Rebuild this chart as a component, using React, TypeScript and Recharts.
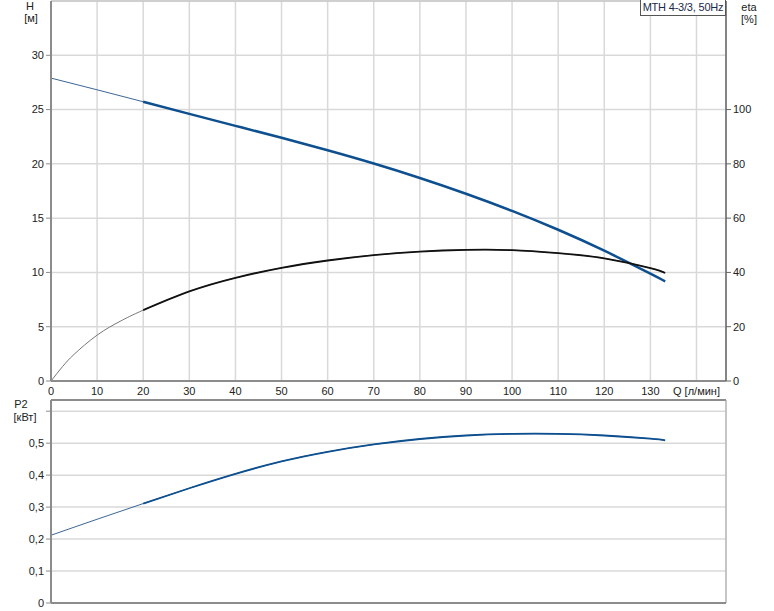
import { LineChart, Line, XAxis, YAxis, CartesianGrid, ReferenceLine } from 'recharts';

// Q [л/мин] points
const flowH = [0, 10, 20, 30, 40, 50, 60, 70, 80, 90, 100, 110, 120, 130, 133.2];
const headH = [27.9, 26.82, 25.72, 24.6, 23.5, 22.4, 21.25, 20.03, 18.7, 17.25, 15.67, 13.93, 12.0, 9.88, 9.17];

const flowEta = [0, 2.5, 5, 10, 15, 20, 30, 40, 50, 60, 70, 80, 90, 100, 110, 120, 130, 133.2];
const etaVals = [0, 5.3, 9.8, 16.9, 22.0, 26.1, 33.0, 38.0, 41.7, 44.4, 46.4, 47.7, 48.3, 48.2, 47.1, 45.2, 41.6, 39.8];

const flowP2 = [0, 10, 20, 30, 40, 50, 60, 70, 80, 90, 100, 110, 120, 130, 133.2];
const p2Vals = [0.212, 0.262, 0.311, 0.359, 0.404, 0.443, 0.473, 0.496, 0.513, 0.524, 0.529, 0.529, 0.524, 0.514, 0.509];

const qTicks = [0, 10, 20, 30, 40, 50, 60, 70, 80, 90, 100, 110, 120, 130, 140];
const hTicks = [0, 5, 10, 15, 20, 25, 30];
const etaTicks = [0, 20, 40, 60, 80, 100];
const p2Ticks = [0, 0.1, 0.2, 0.3, 0.4, 0.5, 0.6];

const SPLIT = 20; // thick line drawn from this flow on
const Q_MAX = 146.4;

const font = '"Liberation Sans", Arial, sans-serif';
const blue = '#0d4f8f';
const gridColor = '#d9d9d9';
const axisColor = '#8c8c8c';

type Row = { q: number; [k: string]: number | undefined };

// full thin curve + thick overlay from SPLIT onwards
function addSeries(map: Map<number, Row>, qs: number[], vals: number[], key: string) {
  qs.forEach((q, i) => {
    const row = map.get(q) ?? { q };
    row[key + 'Thin'] = vals[i];
    if (q >= SPLIT) row[key + 'Thick'] = vals[i];
    map.set(q, row);
  });
}

function buildRows(series: [number[], number[], string][]) {
  const map = new Map<number, Row>();
  series.forEach(([qs, vals, key]) => addSeries(map, qs, vals, key));
  return Array.from(map.values()).sort((a, b) => a.q - b.q);
}

const topRows = buildRows([
  [flowH, headH, 'h'],
  [flowEta, etaVals, 'eta'],
]);
const p2Rows = buildRows([[flowP2, p2Vals, 'p2']]);

const tickStyle = { fill: '#222', fontSize: 11, fontFamily: font };

const label = (text: string, x: number, y: number) => (
  <div
    style={{
      position: 'absolute',
      left: x - 30,
      top: y,
      width: 60,
      textAlign: 'center',
      fontSize: 11,
      fontFamily: font,
      color: '#222',
      lineHeight: '12px',
    }}
  >
    {text}
  </div>
);

export default function App() {
  return (
    <div style={{ position: 'absolute', left: 0, top: 0, width: 774, height: 611, background: '#fff', overflow: 'hidden' }}>
      <div style={{ position: 'absolute', left: 0, top: 0 }}>
        <LineChart width={774} height={400} data={topRows} margin={{ top: 1, right: 0, bottom: 0, left: 0 }}>
          <CartesianGrid yAxisId="h" stroke={gridColor} strokeWidth={1.5} />
          <XAxis
            dataKey="q"
            type="number"
            domain={[0, Q_MAX]}
            ticks={qTicks}
            interval={0}
            tickFormatter={(v: number) => (v === 140 ? 'Q [л/мин]' : String(v))}
            axisLine={{ stroke: axisColor, strokeWidth: 2 }}
            tickLine={false}
            tickSize={4}
            tick={tickStyle}
            height={19}
          />
          <YAxis
            yAxisId="h"
            domain={[0, 35]}
            ticks={hTicks}
            interval={0}
            width={51}
            axisLine={{ stroke: axisColor, strokeWidth: 2 }}
            tickLine={{ stroke: axisColor }}
            tickSize={5}
            tick={tickStyle}
          />
          <YAxis
            yAxisId="eta"
            orientation="right"
            domain={[0, 140]}
            ticks={etaTicks}
            interval={0}
            width={48}
            axisLine={{ stroke: '#666', strokeWidth: 1.5 }}
            tickLine={{ stroke: '#666' }}
            tickSize={5}
            tick={tickStyle}
          />
          <ReferenceLine yAxisId="h" y={35} stroke="#bdbdbd" />
          <Line yAxisId="h" dataKey="hThin" type="natural" stroke="#3d6698" strokeWidth={1} dot={false} activeDot={false} connectNulls isAnimationActive={false} />
          <Line yAxisId="h" dataKey="hThick" type="natural" stroke={blue} strokeWidth={2.5} dot={false} activeDot={false} connectNulls isAnimationActive={false} />
          <Line yAxisId="eta" dataKey="etaThin" type="natural" stroke="#777" strokeWidth={1} dot={false} activeDot={false} connectNulls isAnimationActive={false} />
          <Line yAxisId="eta" dataKey="etaThick" type="natural" stroke="#111" strokeWidth={1.8} dot={false} activeDot={false} connectNulls isAnimationActive={false} />
        </LineChart>
      </div>

      <div style={{ position: 'absolute', left: 0, top: 399 }}>
        <LineChart width={774} height={212} data={p2Rows} margin={{ top: 1, right: 48, bottom: 0, left: 0 }}>
          <CartesianGrid stroke={gridColor} strokeWidth={1.5} />
          <XAxis
            dataKey="q"
            type="number"
            domain={[0, Q_MAX]}
            ticks={qTicks}
            interval={0}
            tick={false}
            tickLine={false}
            axisLine={{ stroke: axisColor, strokeWidth: 2 }}
            height={8}
          />
          <YAxis
            domain={[0, 0.635]}
            ticks={p2Ticks}
            interval={0}
            width={51}
            tickFormatter={(v: number) => (v > 0.55 ? '' : v === 0 ? '0' : v.toFixed(1).replace('.', ','))}
            axisLine={{ stroke: axisColor, strokeWidth: 2 }}
            tickLine={{ stroke: axisColor }}
            tickSize={5}
            tick={tickStyle}
          />
          <ReferenceLine y={0.635} stroke={axisColor} strokeWidth={2} />
          <ReferenceLine x={Q_MAX} stroke="#a8a8a8" />
          <Line dataKey="p2Thin" type="natural" stroke="#3d6698" strokeWidth={1} dot={false} activeDot={false} connectNulls isAnimationActive={false} />
          <Line dataKey="p2Thick" type="natural" stroke={blue} strokeWidth={1.8} dot={false} activeDot={false} connectNulls isAnimationActive={false} />
        </LineChart>
      </div>

      {label('H', 30, 0)}
      {label('[м]', 31, 12)}
      {label('eta', 749, 1)}
      {label('[%]', 749, 13)}
      {label('P2', 21, 398)}
      {label('[кВт]', 25, 411)}

      <div
        style={{
          position: 'absolute',
          left: 640,
          top: 0,
          width: 86,
          height: 16,
          border: '1px solid #555',
          borderTop: 'none',
          background: '#fff',
          fontSize: 11,
          fontFamily: font,
          color: '#1a2a4a',
          lineHeight: '15px',
          textAlign: 'center',
          whiteSpace: 'nowrap',
          boxSizing: 'border-box',
          letterSpacing: '-0.2px',
        }}
      >
        MTH 4-3/3, 50Hz
      </div>
    </div>
  );
}
